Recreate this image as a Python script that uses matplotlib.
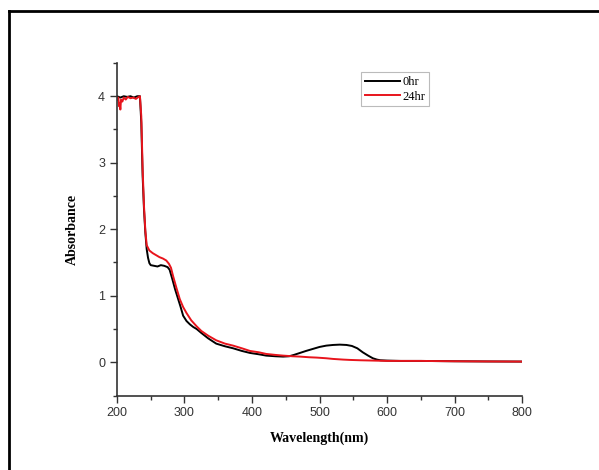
import matplotlib
matplotlib.use("Agg")
from matplotlib import pyplot as plt
from matplotlib.lines import Line2D
from matplotlib.ticker import MultipleLocator

# wavelength (nm) / absorbance
wl_0hr = [200, 205, 210, 215, 220, 225, 230, 234, 236, 238, 240, 242, 244, 246,
          248, 250, 255, 260, 265, 270, 275, 278, 282, 286, 290, 294, 298, 303,
          308, 313, 318, 325, 335, 347, 360, 372, 385, 397, 410, 421, 435, 446,
          455, 462, 471, 480, 490, 500, 510, 520, 530, 540, 548, 556, 564, 572,
          579, 585, 590, 600, 620, 650, 700, 750, 800]
abs_0hr = [4.0, 3.98, 4.0, 3.99, 4.0, 3.98, 4.0, 4.0, 3.6, 2.8, 2.3, 1.95, 1.7, 1.57,
           1.49, 1.46, 1.45, 1.44, 1.46, 1.45, 1.43, 1.39, 1.25, 1.1, 0.97, 0.84, 0.7, 0.62,
           0.57, 0.53, 0.5, 0.44, 0.36, 0.28, 0.24, 0.21, 0.17, 0.14, 0.12, 0.1, 0.09, 0.085,
           0.09, 0.11, 0.14, 0.17, 0.2, 0.23, 0.25, 0.26, 0.265, 0.26, 0.245, 0.21, 0.15, 0.1,
           0.06, 0.04, 0.03, 0.025, 0.02, 0.02, 0.015, 0.012, 0.01]

wl_24hr = [200, 202, 203, 204, 205, 206, 208, 210, 213, 216, 220, 224, 228, 232,
           234, 236, 238, 240, 242, 244, 248, 253, 258, 263, 268, 273, 277, 280,
           283, 288, 293, 298, 303, 310, 318, 325, 335, 347, 360, 372, 385, 397,
           410, 421, 435, 446, 460, 471, 485, 496, 510, 520, 535, 545, 560, 580,
           600, 650, 700, 750, 800]
abs_24hr = [3.95, 3.98, 3.85, 3.9, 3.8, 3.95, 3.92, 3.98, 3.95, 3.99, 3.97, 3.98, 3.96, 3.99,
            4.0, 3.7, 2.9, 2.35, 1.98, 1.76, 1.68, 1.64, 1.61, 1.58, 1.56, 1.53, 1.48, 1.42,
            1.3, 1.12, 0.95, 0.83, 0.74, 0.63, 0.54, 0.47, 0.4, 0.33, 0.28, 0.25, 0.21, 0.17,
            0.15, 0.125, 0.11, 0.1, 0.09, 0.085, 0.075, 0.07, 0.06, 0.05, 0.04, 0.035, 0.03, 0.025,
            0.02, 0.02, 0.015, 0.012, 0.01]

plt.rcParams["font.family"] = "Liberation Sans"
plt.rcParams["font.size"] = 9

fig = plt.figure(figsize=(5.99, 4.70), dpi=100)
ax = fig.add_axes([0.1953, 0.1585, 0.6762, 0.7075])

ax.plot(wl_0hr, abs_0hr, color="black", lw=1.4, label="0hr")
ax.plot(wl_24hr, abs_24hr, color="#e8141c", lw=1.4, label="24hr")

ax.set_xlim(200, 800)
ax.set_ylim(-0.5, 4.5)
ax.xaxis.set_major_locator(MultipleLocator(100))
ax.xaxis.set_minor_locator(MultipleLocator(50))
ax.yaxis.set_major_locator(MultipleLocator(1))
ax.yaxis.set_minor_locator(MultipleLocator(0.5))
ax.tick_params(which="major", direction="out", length=5, width=1, color="#333333")
ax.tick_params(which="minor", direction="out", length=3, width=1, color="#333333")
ax.tick_params(labelsize=9, labelcolor="#333333")
for side in ("top", "right"):
    ax.spines[side].set_visible(False)
for side in ("left", "bottom"):
    ax.spines[side].set_linewidth(1.2)
    ax.spines[side].set_color("#333333")

ax.set_xlabel("Wavelength(nm)", family="Liberation Serif", fontweight="bold",
              fontsize=10, labelpad=9)
ax.set_ylabel("Absorbance", family="Liberation Serif", fontweight="bold",
              fontsize=10, labelpad=14)

leg = ax.legend(loc="upper left", bbox_to_anchor=(355 / 599, 1 - 66 / 470),
                bbox_transform=fig.transFigure, prop={"family": "Liberation Serif", "size": 9},
                handlelength=2.8, handletextpad=0.2, borderpad=0.3, labelspacing=0.2,
                fancybox=False, framealpha=1)
leg.get_frame().set_edgecolor("#bbbbbb")
leg.get_frame().set_linewidth(0.8)

# outer picture frame (left and top edges)
fig.add_artist(Line2D([0.015, 0.015], [0.0, 0.977], transform=fig.transFigure,
                      color="black", lw=2))
fig.add_artist(Line2D([0.015, 1.0], [0.977, 0.977], transform=fig.transFigure,
                      color="black", lw=2))

fig.savefig("out.png", dpi=100)
